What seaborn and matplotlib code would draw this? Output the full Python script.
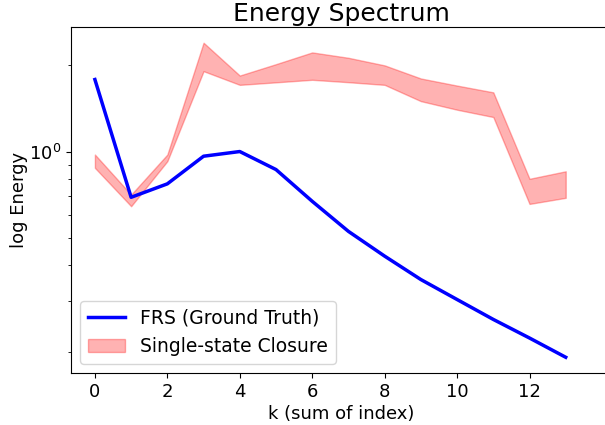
import matplotlib
matplotlib.use("Agg")
import matplotlib.pyplot as plt
import seaborn as sns
import numpy as np
import pandas as pd

# Shell index k and energies
k = [0, 1, 2, 3, 4, 5, 6, 7, 8, 9, 10, 11, 12, 13]
frs_energy = [1.785, 0.692, 0.771, 0.963, 1.0, 0.865, 0.670, 0.526,
              0.431, 0.357, 0.304, 0.259, 0.223, 0.191]
closure_low = [0.877, 0.644, 0.925, 1.909, 1.71, 1.745, 1.781, 1.747,
               1.71, 1.50, 1.40, 1.32, 0.656, 0.689]
closure_high = [0.976, 0.707, 0.976, 2.40, 1.843, 2.02, 2.22, 2.126,
                2.00, 1.80, 1.70, 1.61, 0.803, 0.853]

df = pd.DataFrame({"k": k, "energy": frs_energy})

fig = plt.figure(figsize=(6.05, 4.25), dpi=100)
ax = fig.add_axes([71 / 605, 52 / 425, 540 / 605, 346 / 425])

sns.lineplot(data=df, x="k", y="energy", ax=ax, color="blue", linewidth=2.5,
             label="FRS (Ground Truth)")
ax.fill_between(k, closure_low, closure_high, color="red", alpha=0.3,
                label="Single-state Closure")

ax.set_yscale("log")
ax.set_xlim(-0.66, 14.25)
ax.set_xticks([0, 2, 4, 6, 8, 10, 12])
ax.set_title("Energy Spectrum", fontsize=18, pad=4)
ax.set_xlabel("k (sum of index)", fontsize=13, labelpad=3)
ax.set_ylabel("log Energy", fontsize=13, labelpad=1)
ax.tick_params(axis="both", which="major", labelsize=13)
ax.legend(loc="lower left", fontsize=13.5)

fig.savefig("out.png", dpi=100)
